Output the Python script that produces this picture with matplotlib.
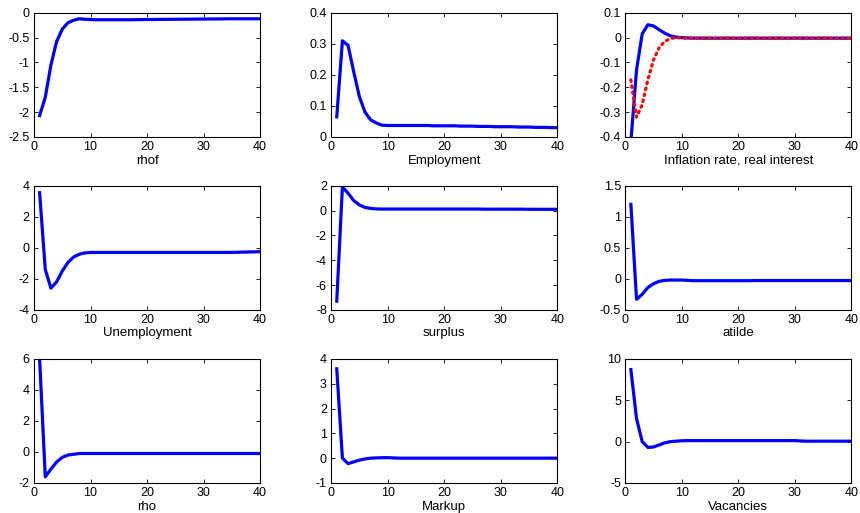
import matplotlib
matplotlib.use('Agg')
import matplotlib.pyplot as plt
from matplotlib.ticker import FormatStrFormatter, MultipleLocator
import numpy as np

plt.rcParams['font.family'] = ['Liberation Sans', 'DejaVu Sans']
plt.rcParams['axes.unicode_minus'] = False

periods = np.arange(1, 41)

# impulse responses (40 periods each)
rhof = [-2.07, -1.7, -1.05, -0.58, -0.33, -0.2, -0.15, -0.12, -0.13, -0.135,
        -0.14, -0.14, -0.14, -0.14, -0.14, -0.14, -0.14, -0.138, -0.136, -0.135,
        -0.134, -0.133, -0.132, -0.131, -0.13, -0.129, -0.128, -0.127, -0.126, -0.125,
        -0.124, -0.123, -0.122, -0.121, -0.12, -0.12, -0.12, -0.12, -0.12, -0.12]
employment = [0.065, 0.31, 0.295, 0.21, 0.13, 0.08, 0.055, 0.045, 0.038, 0.037,
              0.037, 0.037, 0.037, 0.037, 0.037, 0.037, 0.037, 0.036, 0.036, 0.036,
              0.036, 0.036, 0.035, 0.035, 0.035, 0.034, 0.034, 0.034, 0.033, 0.033,
              0.033, 0.033, 0.032, 0.032, 0.032, 0.031, 0.031, 0.031, 0.03, 0.03]
inflation = [-0.42, -0.13, 0.015, 0.052, 0.047, 0.032, 0.018, 0.007, 0.002, 0.0,
             -0.001, -0.002, -0.002, -0.002, -0.002, -0.002, -0.002, -0.002, -0.002, -0.002,
             -0.002, -0.002, -0.002, -0.002, -0.002, -0.002, -0.002, -0.002, -0.002, -0.002,
             -0.002, -0.002, -0.002, -0.002, -0.002, -0.002, -0.002, -0.002, -0.002, -0.002]
real_interest = [-0.17, -0.32, -0.27, -0.17, -0.09, -0.04, -0.015, -0.003, 0.0, -0.001,
                 -0.002, -0.002, -0.002, -0.002, -0.002, -0.002, -0.002, -0.002, -0.002, -0.002,
                 -0.002, -0.002, -0.002, -0.002, -0.002, -0.002, -0.002, -0.002, -0.002, -0.002,
                 -0.002, -0.002, -0.002, -0.002, -0.002, -0.002, -0.002, -0.002, -0.002, -0.002]
unemployment = [3.55, -1.4, -2.6, -2.2, -1.5, -0.95, -0.6, -0.42, -0.33, -0.3,
                -0.3, -0.3, -0.3, -0.3, -0.3, -0.3, -0.3, -0.3, -0.3, -0.3,
                -0.3, -0.3, -0.3, -0.3, -0.3, -0.3, -0.3, -0.3, -0.3, -0.3,
                -0.3, -0.3, -0.3, -0.3, -0.3, -0.29, -0.28, -0.27, -0.26, -0.25]
surplus = [-7.3, 1.9, 1.4, 0.8, 0.45, 0.25, 0.17, 0.13, 0.12, 0.12,
           0.12, 0.12, 0.12, 0.12, 0.12, 0.12, 0.12, 0.12, 0.12, 0.12,
           0.12, 0.12, 0.12, 0.12, 0.12, 0.12, 0.11, 0.11, 0.11, 0.11,
           0.11, 0.11, 0.11, 0.11, 0.1, 0.1, 0.1, 0.1, 0.1, 0.1]
atilde = [1.2, -0.33, -0.25, -0.14, -0.08, -0.04, -0.025, -0.02, -0.02, -0.02,
          -0.025, -0.03, -0.03, -0.03, -0.03, -0.03, -0.03, -0.03, -0.03, -0.03,
          -0.03, -0.03, -0.028, -0.028, -0.028, -0.028, -0.028, -0.028, -0.028, -0.028,
          -0.028, -0.028, -0.028, -0.028, -0.028, -0.028, -0.028, -0.028, -0.028, -0.028]
rho = [6.0, -1.6, -1.1, -0.65, -0.35, -0.2, -0.15, -0.1, -0.1, -0.1,
       -0.1, -0.1, -0.1, -0.1, -0.1, -0.1, -0.1, -0.1, -0.1, -0.1,
       -0.1, -0.1, -0.1, -0.1, -0.1, -0.1, -0.1, -0.1, -0.1, -0.1,
       -0.1, -0.1, -0.1, -0.1, -0.1, -0.1, -0.1, -0.1, -0.1, -0.1]
markup = [3.6, 0.0, -0.22, -0.15, -0.08, -0.03, 0.0, 0.01, 0.02, 0.02,
          0.01, 0.0, 0.0, 0.0, 0.0, 0.0, 0.0, 0.0, 0.0, 0.0,
          0.0, 0.0, 0.0, 0.0, 0.0, 0.0, 0.0, 0.0, 0.0, 0.0,
          0.0, 0.0, 0.0, 0.0, 0.0, 0.0, 0.0, 0.0, 0.0, 0.0]
vacancies = [8.7, 2.8, 0.0, -0.7, -0.65, -0.4, -0.15, 0.0, 0.05, 0.1,
             0.12, 0.12, 0.12, 0.12, 0.12, 0.12, 0.12, 0.12, 0.12, 0.12,
             0.12, 0.12, 0.12, 0.12, 0.12, 0.12, 0.12, 0.12, 0.12, 0.12,
             0.08, 0.05, 0.05, 0.05, 0.05, 0.05, 0.05, 0.05, 0.05, 0.05]

labels = ['rhof', 'Employment', 'Inflation rate, real interest',
          'Unemployment', 'surplus', 'atilde',
          'rho', 'Markup', 'Vacancies']
series = [rhof, employment, inflation, unemployment, surplus, atilde, rho, markup, vacancies]
ylims = [(-2.5, 0), (0, 0.4), (-0.4, 0.1), (-4, 4), (-8, 2), (-0.5, 1.5), (-2, 6), (-1, 4), (-5, 10)]
ysteps = [0.5, 0.1, 0.1, 2, 2, 0.5, 2, 1, 5]

fig = plt.figure(figsize=(8.6, 5.13), dpi=100)
lefts = [0.0395, 0.385, 0.727]
bottoms = [0.733, 0.396, 0.0585]
w, h = 0.263, 0.242

for i in range(9):
    ax = fig.add_axes([lefts[i % 3], bottoms[i // 3], w, h])
    ax.plot(periods, series[i], color='blue', linewidth=2.3)
    if i == 2:
        ax.plot(periods, real_interest, color='red', linewidth=2.3,
                linestyle=(0, (0.5, 1.4)), dash_capstyle='round')
    ax.set_xlim(0, 40)
    ax.set_ylim(*ylims[i])
    ax.xaxis.set_major_locator(MultipleLocator(10))
    ax.yaxis.set_major_locator(MultipleLocator(ysteps[i]))
    ax.yaxis.set_major_formatter(FormatStrFormatter('%g'))
    ax.tick_params(direction='in', top=True, right=True, labelsize=9, length=3, width=0.6, pad=3)
    ax.set_xlabel(labels[i], fontsize=9.5, labelpad=1)
    for s in ax.spines.values():
        s.set_linewidth(0.8)

fig.savefig('out.png', dpi=100)
